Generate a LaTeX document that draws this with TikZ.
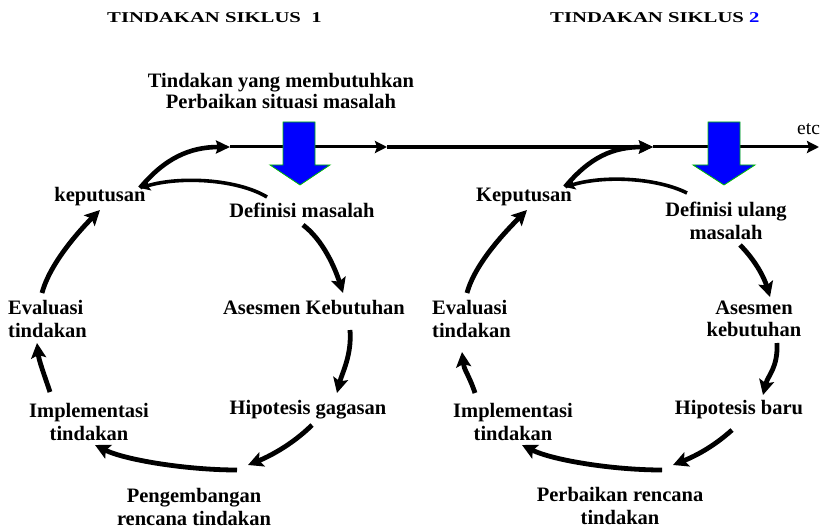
\documentclass[tikz,border=0pt]{standalone}
\usepackage{fontspec}
\setmainfont{Liberation Serif}
\newfontfamily\titlefont[FakeStretch=1.38]{Liberation Serif}
\usetikzlibrary{arrows.meta}
\begin{document}
\begin{tikzpicture}[x=1pt,y=-1pt,
  lbl/.style={inner sep=0pt, font=\bfseries\fontsize{20.5}{22.5}\selectfont, align=center},
  lblL/.style={lbl, align=left, anchor=west},
  ttl/.style={inner sep=0pt, font=\titlefont\bfseries\fontsize{15}{18}\selectfont, anchor=base west},
  cyc/.style={line width=4.8pt, -{Stealth[length=15pt,width=15pt,inset=3pt]}},
  link/.style={line width=3.6pt, -{Stealth[length=10pt,width=11pt,inset=2pt]}},
  mainthin/.style={line width=3pt, -{Stealth[length=12pt,width=12pt,inset=2pt]}},
  mainthick/.style={line width=4.6pt, -{Stealth[length=14pt,width=13pt,inset=2pt]}},
  bluearrow/.style={fill=blue, draw=green!75!black, line width=0.8pt}]
\useasboundingbox (0,0) rectangle (821,529);

% titles
\node[ttl] (t1) at (107,23) {TINDAKAN SIKLUS\ \ 1};
\node[ttl] (t2) at (550,23) {TINDAKAN SIKLUS \textcolor{blue}{2}};
\node[lbl, font=\bfseries\fontsize{20.5}{20.5}\selectfont] (top) at (281,91) {Tindakan yang membutuhkan\\Perbaikan situasi masalah};
\node[lbl, anchor=base west, font=\fontsize{19.5}{19.5}\selectfont] (etc) at (797,135) {etc};

% main line
\coordinate (m1) at (230,147);
\coordinate (m2) at (387,147);
\coordinate (m3) at (653,147);
\coordinate (mend) at (819,147);

% cycle 1 nodes
\node[lbl] (kep1) at (100,197) {keputusan};
\node[lbl] (def1) at (302,210) {Definisi masalah};
\node[lbl] (ases1) at (314,308) {Asesmen Kebutuhan};
\node[lbl] (hip1) at (308,410) {Hipotesis gagasan};
\node[lbl] (peng1) at (194,507) {Pengembangan\\rencana tindakan};
\node[lbl] (impl1) at (89,422) {Implementasi\\tindakan};
\node[lblL] (eval1) at (8,319) {Evaluasi\\tindakan};

% cycle 2 nodes
\node[lbl] (kep2) at (524,197) {Keputusan};
\node[lbl] (def2) at (726,221) {Definisi ulang\\masalah};
\node[lbl] (ases2) at (754,319) {Asesmen\\kebutuhan};
\node[lbl] (hip2) at (739,410) {Hipotesis baru};
\node[lbl] (perb2) at (620,506) {Perbaikan rencana\\tindakan};
\node[lbl] (impl2) at (513,422) {Implementasi\\tindakan};
\node[lblL] (eval2) at (432,319) {Evaluasi\\tindakan};

% main line segments
\draw[mainthin] (m1) -- (m2);
\draw[mainthick] (m2) -- (m3);
\draw[mainthin] (m3) -- (mend);

% cycle 1 connectors
\draw[cyc] ([shift={(1,15)}]def1.center) .. controls +(20,15) and +(-8,-25) .. ([shift={(29,-15)}]ases1.center);
\draw[cyc] ([shift={(36,22)}]ases1.center) .. controls +(2,25) and +(5,-20) .. ([shift={(29,-17)}]hip1.center);
\draw[cyc] ([shift={(4,15)}]hip1.center) .. controls +(-20,20) and +(20,-8) .. ([shift={(54,-42)}]peng1.center);
\draw[cyc] ([shift={(43,-37)}]peng1.center) .. controls +(-50,0) and +(30,15) .. ([shift={(6,23)}]impl1.center);
\draw[cyc] ([shift={(-39,-30)}]impl1.center) .. controls +(-6,-18) and +(2,18) .. ([shift={(29,24)}]eval1.west);
\draw[cyc] ([shift={(34,-26)}]eval1.west) .. controls +(8,-30) and +(-20,20) .. ([shift={(0,13)}]kep1.center);
\draw[link] ([shift={(-35,-13)}]def1.center) .. controls +(-30,-18) and +(40,-12) .. ([shift={(40,-9)}]kep1.center);
\draw[mainthick] ([shift={(40,-9)}]kep1.center) .. controls +(25,-30) and +(-40,0) .. (m1);

% cycle 2 connectors
\draw[cyc] ([shift={(14,24)}]def2.center) .. controls +(15,15) and +(-6,-20) .. ([shift={(16,-22)}]ases2.center);
\draw[cyc] ([shift={(23,24)}]ases2.center) .. controls +(1,25) and +(5,-20) .. ([shift={(24,-15)}]hip2.center);
\draw[cyc] ([shift={(-7,20)}]hip2.center) .. controls +(-20,18) and +(20,-8) .. ([shift={(53,-41)}]perb2.center);
\draw[cyc] ([shift={(42,-36)}]perb2.center) .. controls +(-50,0) and +(30,15) .. ([shift={(9,23)}]impl2.center);
\draw[cyc] ([shift={(-38,-29)}]impl2.center) .. controls +(-6,-18) and +(2,18) .. ([shift={(30,33)}]eval2.west);
\draw[cyc] ([shift={(35,-26)}]eval2.west) .. controls +(8,-30) and +(-20,20) .. ([shift={(3,13)}]kep2.center);
\draw[link] ([shift={(-39,-28)}]def2.center) .. controls +(-30,-15) and +(40,-12) .. ([shift={(41,-10)}]kep2.center);
\draw[mainthick] ([shift={(41,-10)}]kep2.center) .. controls +(25,-30) and +(-40,0) .. (m3);

% blue arrows
\path[bluearrow] (283,122) -- (315,122) -- (315,165) -- (330,165) -- (300,185) -- (270,165) -- (283,165) -- cycle;
\path[bluearrow] (708,122) -- (740,122) -- (740,165) -- (755,165) -- (724,185) -- (693,165) -- (708,165) -- cycle;
\end{tikzpicture}
\end{document}
